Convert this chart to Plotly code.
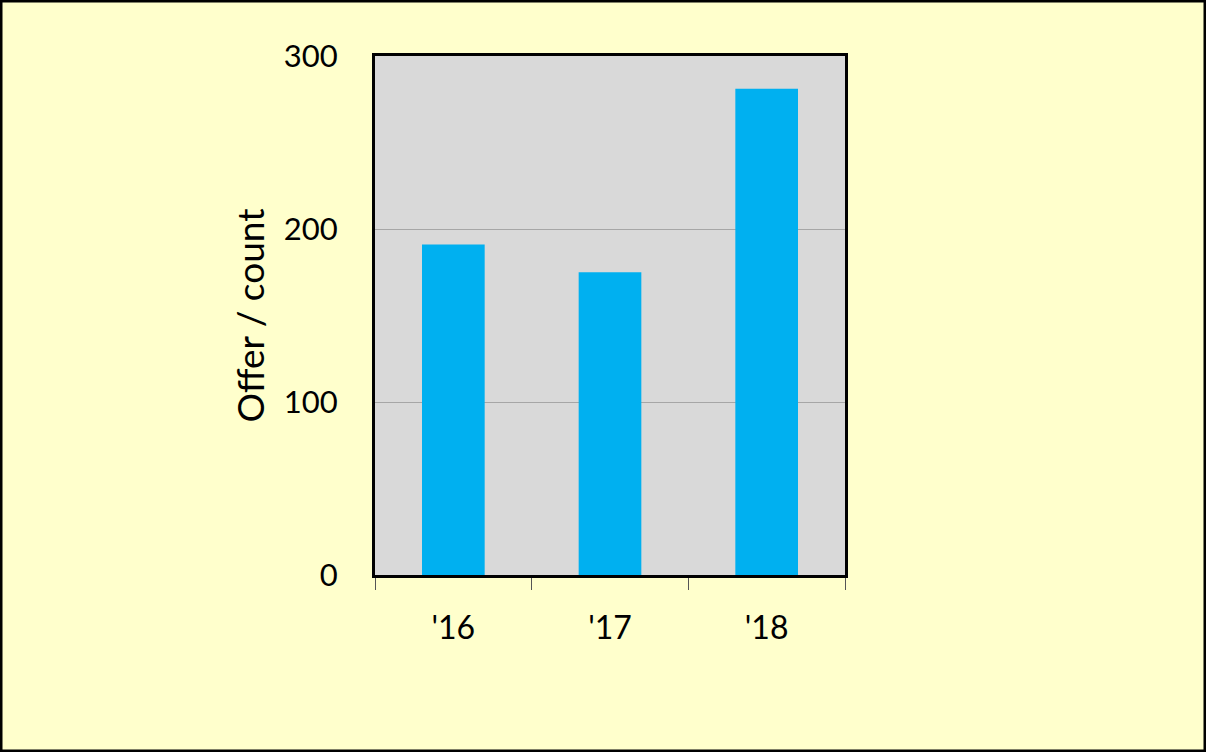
import plotly.graph_objects as go

categories = ["'16", "'17", "'18"]
values = [191, 175, 281]
y_ticks = [0, 100, 200, 300]

fig = go.Figure(go.Bar(x=categories, y=values, marker=dict(color="#00b0f0", line=dict(width=0)), width=0.4))

fig.update_layout(
    width=1206, height=752,
    paper_bgcolor="#ffffcc", plot_bgcolor="#d9d9d9",
    margin=dict(l=375, r=361, t=56, b=177),
    font=dict(family="Lato, Carlito, sans-serif", color="#000000"),
    showlegend=False,
)
fig.update_xaxes(
    showline=True, linecolor="#000000", linewidth=3, mirror=True,
    ticks="outside", tickson="boundaries", ticklen=12, tickcolor="#555555", tickwidth=1,
    tickfont=dict(size=32), ticklabelstandoff=23, showgrid=False,
)
fig.update_yaxes(
    range=[0, 300], tickvals=y_ticks, showline=True, linecolor="#000000", linewidth=3, mirror=True,
    ticks="outside", ticklen=0, tickfont=dict(size=31), ticklabelstandoff=28,
    gridcolor="#a6a6a6", gridwidth=1, zeroline=False,
    title=dict(text="Offer / count", font=dict(size=37), standoff=8),
)
# outer border of the figure
fig.add_shape(type="rect", xref="paper", yref="paper", x0=-374/470, x1=1 + 360/470, y0=-176/519, y1=1 + 55/519,
              line=dict(color="#000000", width=3))
fig.write_html("out.html", config={"displayModeBar": False},
               post_script="document.body.style.margin='0';document.body.style.overflow='hidden';")
